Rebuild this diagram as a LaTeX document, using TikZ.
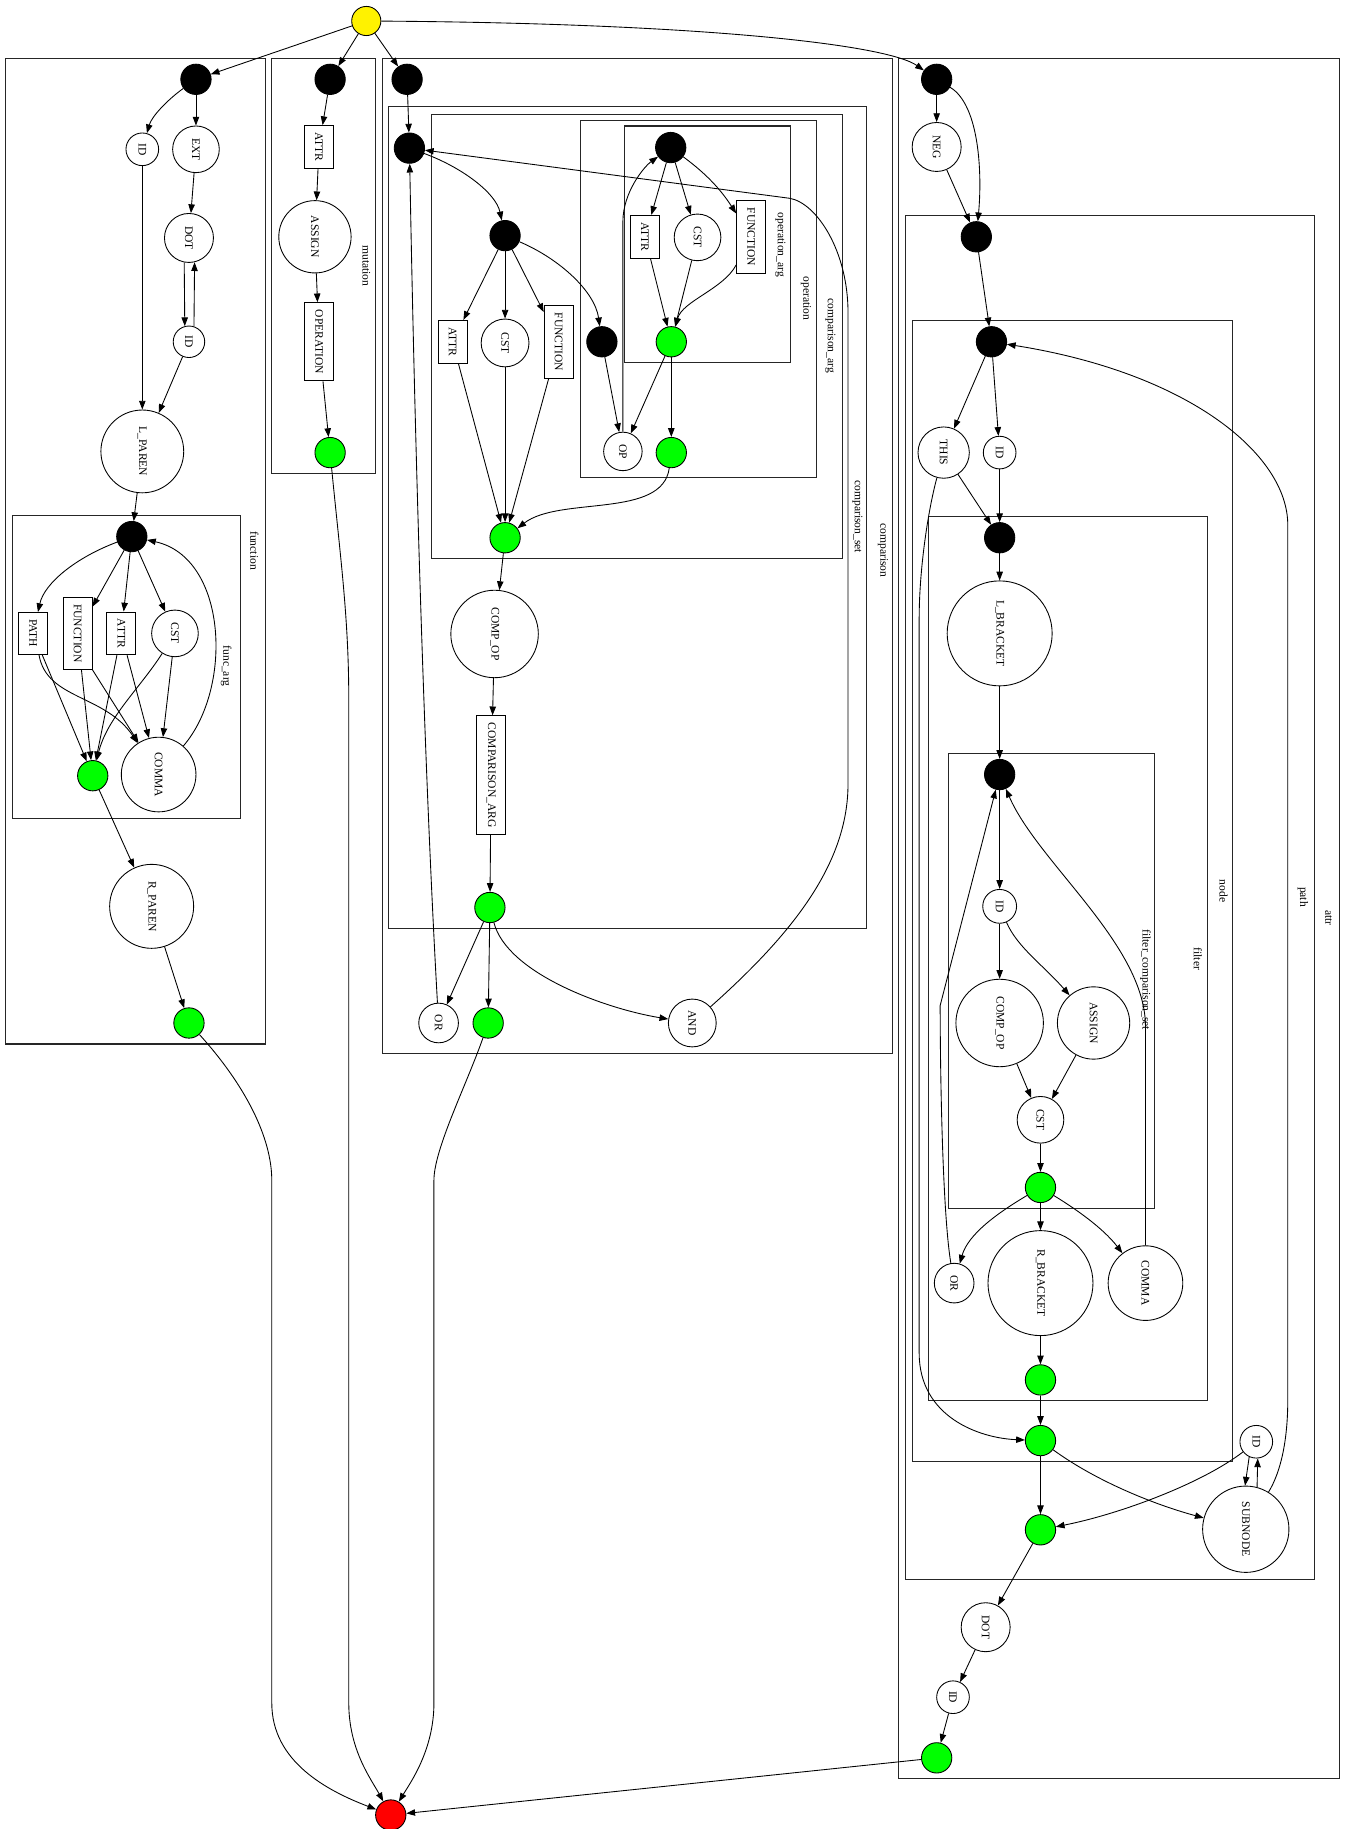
\documentclass[tikz,border=0pt]{standalone}
\usepackage{fontspec}
\setmainfont{Liberation Serif}
\usetikzlibrary{arrows.meta}
\newcommand{\vlab}[1]{\rotatebox{-90}{#1}}

\tikzset{
  blk/.style={circle,draw=black,fill=black,minimum size=26pt,inner sep=0pt},
  grn/.style={circle,draw=black,fill=green,minimum size=26pt,inner sep=0pt},
  tok/.style={circle,draw=black,minimum size=#1,inner sep=0pt},
  tok/.default=28pt,
  rul/.style={rectangle,draw=black,minimum width=25pt,inner xsep=0pt,inner ysep=6pt},
  clus/.style={draw=black!85,line width=0.9pt},
  clab/.style={inner sep=0pt},
}

\begin{document}
\begin{tikzpicture}[x=1pt,y=-1pt,>={Triangle[length=7.5pt,width=5.5pt]},line width=0.75pt,
    every node/.style={font=\fontsize{9.9}{11}\selectfont}]
    \useasboundingbox (0,0) rectangle (1161,1568);

    % clusters
    \draw[clus] (5,50) rectangle (228,895);
    \draw[clus] (11,442) rectangle (206,702);
    \draw[clus] (233,50) rectangle (322,406);
    \draw[clus] (328,50) rectangle (765,903);
    \draw[clus] (333,91) rectangle (743,796);
    \draw[clus] (370,98) rectangle (722,479);
    \draw[clus] (498,103) rectangle (700,409);
    \draw[clus] (535,108) rectangle (678,311);
    \draw[clus] (770,50) rectangle (1148,1525);
    \draw[clus] (776,185) rectangle (1127,1354);
    \draw[clus] (782,275) rectangle (1057,1253);
    \draw[clus] (796,443) rectangle (1035,1201);
    \draw[clus] (813,646) rectangle (990,1036);

    \node[clab] (lfun) at (218,472) {\vlab{function}};
    \node[clab] (lfarg) at (194,571) {\vlab{func\_arg}};
    \node[clab] (lmut) at (314,228) {\vlab{mutation}};
    \node[clab] (lcmp) at (757,472) {\vlab{comparison}};
    \node[clab] (lcset) at (735,443) {\vlab{comparison\_set}};
    \node[clab] (lcarg) at (712,288) {\vlab{comparison\_arg}};
    \node[clab] (lop) at (691,256) {\vlab{operation}};
    \node[clab] (loarg) at (669,210) {\vlab{operation\_arg}};
    \node[clab] (lattr) at (1139,787) {\vlab{attr}};
    \node[clab] (lpath) at (1117,769) {\vlab{path}};
    \node[clab] (lnode) at (1049,764) {\vlab{node}};
    \node[clab] (lfil) at (1027,822) {\vlab{filter}};
    \node[clab] (lfcs) at (982,840) {\vlab{filter\_comparison\_set}};

    % start / end
    \node[circle,draw,fill=yellow,minimum size=25pt,inner sep=0pt] (start) at (314,18) {};
    \node[circle,draw,fill=red,minimum size=26pt,inner sep=0pt] (end) at (335,1556) {};

    % function
    \node[blk] (f0) at (168,68) {};
    \node[tok] (fid) at (122,128) {\vlab{ID}};
    \node[tok=40pt] (fext) at (168,128) {\vlab{EXT}};
    \node[tok=42pt] (fdot) at (162,204) {\vlab{DOT}};
    \node[tok=27pt] (fid2) at (162,293) {\vlab{ID}};
    \node[tok=71pt] (flp) at (122,387) {\vlab{L\_PAREN}};
    \node[blk] (fa0) at (113,460) {};
    \node[rul] (fpath) at (28.5,543) {\vlab{PATH}};
    \node[rul] (ffun) at (66.5,543) {\vlab{FUNCTION}};
    \node[rul] (fattr) at (104,543) {\vlab{ATTR}};
    \node[tok=40pt] (fcst) at (150,543) {\vlab{CST}};
    \node[grn] (fa1) at (79.5,665) {};
    \node[tok=64pt] (fcomma) at (136,664) {\vlab{COMMA}};
    \node[tok=72pt] (frp) at (130,777) {\vlab{R\_PAREN}};
    \node[grn] (f1) at (162,877) {};

    % mutation
    \node[blk] (m0) at (283,68) {};
    \node[rul] (mattr) at (273.5,126) {\vlab{ATTR}};
    \node[tok=62pt] (massign) at (270,203) {\vlab{ASSIGN}};
    \node[rul] (mop) at (273.5,293) {\vlab{OPERATION}};
    \node[grn] (m1) at (283,388) {};

    % comparison
    \node[blk] (c0) at (349,68) {};
    \node[blk] (cs0) at (351,127) {};
    \node[blk] (ca0) at (433,202) {};
    \node[rul] (cattr) at (388,293) {\vlab{ATTR}};
    \node[tok=41pt] (ccst) at (433,294) {\vlab{CST}};
    \node[rul] (cfun) at (479,293) {\vlab{FUNCTION}};
    \node[blk] (op0) at (516,293) {};
    \node[blk] (oa0) at (575,126.5) {};
    \node[rul] (oaattr) at (553,203) {\vlab{ATTR}};
    \node[tok=40pt] (oacst) at (598,203.5) {\vlab{CST}};
    \node[rul] (oafun) at (644,203) {\vlab{FUNCTION}};
    \node[grn] (oa1) at (575.5,293) {};
    \node[tok=33pt] (opop) at (534,387) {\vlab{OP}};
    \node[grn] (op1) at (575.5,388) {};
    \node[grn] (ca1) at (433,461) {};
    \node[tok=75pt] (ccomp) at (424,543.5) {\vlab{COMP\_OP}};
    \node[rul] (cfarg) at (421,664.5) {\vlab{COMPARISON\_ARG}};
    \node[grn] (cs1) at (420,778) {};
    \node[tok=34pt] (cor) at (376,877) {\vlab{OR}};
    \node[grn] (c1) at (418.5,877) {};
    \node[tok=41pt] (cand) at (593.5,877) {\vlab{AND}};

    % attr
    \node[blk] (a0) at (803,68) {};
    \node[tok=42pt] (aneg) at (803,126) {\vlab{NEG}};
    \node[blk] (p0) at (837,203) {};
    \node[blk] (n0) at (850,293) {};
    \node[tok=44pt] (nthis) at (809,388) {\vlab{THIS}};
    \node[tok] (nid) at (857,388) {\vlab{ID}};
    \node[blk] (fl0) at (857,461) {};
    \node[tok=90pt] (flb) at (857,543) {\vlab{L\_BRACKET}};
    \node[blk] (fc0) at (857,664) {};
    \node[tok=29pt] (fcid) at (857,777) {\vlab{ID}};
    \node[tok=75pt] (fccomp) at (857,877) {\vlab{COMP\_OP}};
    \node[tok=62pt] (fcassign) at (937.5,877) {\vlab{ASSIGN}};
    \node[tok=40pt] (fccst) at (892,960) {\vlab{CST}};
    \node[grn] (fc1) at (892,1018) {};
    \node[tok=34pt] (flor) at (818,1100) {\vlab{OR}};
    \node[tok=90pt] (flrb) at (892,1100) {\vlab{R\_BRACKET}};
    \node[tok=64pt] (flcomma) at (982,1100) {\vlab{COMMA}};
    \node[grn] (fl1) at (892,1183) {};
    \node[grn] (n1) at (892,1235) {};
    \node[grn] (p1) at (892,1311.5) {};
    \node[tok] (pid) at (1077,1236) {\vlab{ID}};
    \node[tok=74pt] (psub) at (1068,1311) {\vlab{SUBNODE}};
    \node[tok=42pt] (adot) at (845,1395) {\vlab{DOT}};
    \node[tok] (aid) at (817,1455) {\vlab{ID}};
    \node[grn] (a1) at (803,1507) {};

    % start edges
    \draw[->] (start) -- (f0);
    \draw[->] (start) -- (m0);
    \draw[->] (start) -- (c0);
    \draw[->] (start) .. controls (600,20) and (760,38) .. (a0);

    % function edges
    \draw[->] (f0) .. controls (143,86) and (130,100) .. (fid);
    \draw[->] (f0) -- (fext);
    \draw[->] (fext) -- (fdot);
    \draw[->] (fdot.-101) -- (fid2.105);
    \draw[->] (fid2.72) -- (fdot.-77);
    \draw[->] (fid) -- (flp);
    \draw[->] (fid2) -- (flp);
    \draw[->] (flp) -- (fa0);
    \draw[->] (fa0) .. controls (65,478) and (38,500) .. (fpath);
    \draw[->] (fa0) -- (ffun);
    \draw[->] (fa0) -- (fattr);
    \draw[->] (fa0) -- (fcst);
    \draw[->] (fpath) -- (fa1);
    \draw[->] (fpath.-75) .. controls (40,600) and (90,595) .. (fcomma);
    \draw[->] (ffun) -- (fa1);
    \draw[->] (ffun.south east) -- (fcomma);
    \draw[->] (fattr) -- (fa1);
    \draw[->] (fattr) -- (fcomma);
    \draw[->] (fcst) .. controls (120,590) and (92,615) .. (fa1);
    \draw[->] (fcst) -- (fcomma);
    \draw[->] (fcomma) .. controls (200,590) and (195,478) .. (fa0);
    \draw[->] (fa1) -- (frp);
    \draw[->] (frp) -- (f1);
    \draw[->] (f1) .. controls (210,930) and (233,975) .. (233,1012) -- (233,1460)
        .. controls (233,1510) and (280,1535) .. (end);

    % mutation edges
    \draw[->] (m0) -- (mattr);
    \draw[->] (mattr) -- (massign);
    \draw[->] (massign) -- (mop);
    \draw[->] (mop) -- (m1);
    \draw[->] (m1) .. controls (292,480) and (299,530) .. (299,600) -- (299,1460)
        .. controls (299,1500) and (318,1525) .. (end);

    % comparison edges
    \draw[->] (c0) -- (cs0);
    \draw[->] (cs0) .. controls (395,143) and (425,165) .. (ca0);
    \draw[->] (ca0) -- (cattr);
    \draw[->] (ca0) -- (ccst);
    \draw[->] (ca0) -- (cfun);
    \draw[->] (ca0) .. controls (480,222) and (510,250) .. (op0);
    \draw[->] (cattr) -- (ca1);
    \draw[->] (ccst) -- (ca1);
    \draw[->] (cfun) -- (ca1);
    \draw[->] (op0) -- (opop);
    \draw[->] (opop) -- (534,190) .. controls (534,165) and (552,143) .. (oa0);
    \draw[->] (oa0) -- (oaattr);
    \draw[->] (oa0) -- (oacst);
    \draw[->] (oa0) .. controls (600,145) and (615,158) .. (oafun);
    \draw[->] (oaattr) -- (oa1);
    \draw[->] (oacst) -- (oa1);
    \draw[->] (oafun) .. controls (620,248) and (585,258) .. (oa1);
    \draw[->] (oa1) -- (opop);
    \draw[->] (oa1) -- (op1);
    \draw[->] (op1) .. controls (568,445) and (480,425) .. (ca1);
    \draw[->] (ca1) -- (ccomp);
    \draw[->] (ccomp) -- (cfarg);
    \draw[->] (cfarg) -- (cs1);
    \draw[->] (cs1) -- (cor);
    \draw[->] (cs1) -- (c1);
    \draw[->] (cs1) .. controls (435,835) and (520,865) .. (cand);
    \draw[->] (cor) .. controls (366,700) and (357,450) .. (cs0);
    \draw[->] (cand) .. controls (680,800) and (727,740) .. (727,672) -- (727,268)
        .. controls (727,215) and (700,174) .. (677,170) -- (cs0);
    \draw[->] (c1) .. controls (400,930) and (372,985) .. (372,1012) -- (372,1460)
        .. controls (372,1500) and (352,1528) .. (end);

    % attr edges
    \draw[->] (a0) -- (aneg);
    \draw[->] (a0) .. controls (840,90) and (842,150) .. (p0);
    \draw[->] (aneg) -- (p0);
    \draw[->] (p0) -- (n0);
    \draw[->] (n0) -- (nthis);
    \draw[->] (n0) -- (nid);
    \draw[->] (nthis) -- (fl0);
    \draw[->] (nid) -- (fl0);
    \draw[->] (nthis) .. controls (795,440) and (788,490) .. (788,530) -- (788,1160)
        .. controls (788,1215) and (840,1233) .. (n1);
    \draw[->] (fl0) -- (flb);
    \draw[->] (flb) -- (fc0);
    \draw[->] (fc0) -- (fcid);
    \draw[->] (fcid) -- (fccomp);
    \draw[->] (fcid) .. controls (872,812) and (895,828) .. (fcassign);
    \draw[->] (fccomp) -- (fccst);
    \draw[->] (fcassign) -- (fccst);
    \draw[->] (fccst) -- (fc1);
    \draw[->] (fc1) .. controls (855,1040) and (830,1058) .. (flor);
    \draw[->] (fc1) -- (flrb);
    \draw[->] (fc1) .. controls (920,1035) and (945,1052) .. (flcomma);
    \draw[->] (flor) .. controls (808,1040) and (806,920) .. (806,862) -- (fc0);
    \draw[->] (flcomma) -- (982,880) .. controls (982,810) and (890,740) .. (fc0);
    \draw[->] (flrb) -- (fl1);
    \draw[->] (fl1) -- (n1);
    \draw[->] (n1) -- (p1);
    \draw[->] (n1) .. controls (940,1270) and (990,1290) .. (psub);
    \draw[->] (pid.-115) -- (psub.91);
    \draw[->] (psub.75) -- (pid.-85);
    \draw[->] (pid) .. controls (1030,1272) and (960,1298) .. (p1);
    \draw[->] (psub) .. controls (1098,1262) and (1104,1235) .. (1104,1200) -- (1104,450)
        .. controls (1104,390) and (1020,320) .. (n0);
    \draw[->] (p1) -- (adot);
    \draw[->] (adot) -- (aid);
    \draw[->] (aid) -- (a1);
    \draw[->] (a1) -- (end);
\end{tikzpicture}
\end{document}
